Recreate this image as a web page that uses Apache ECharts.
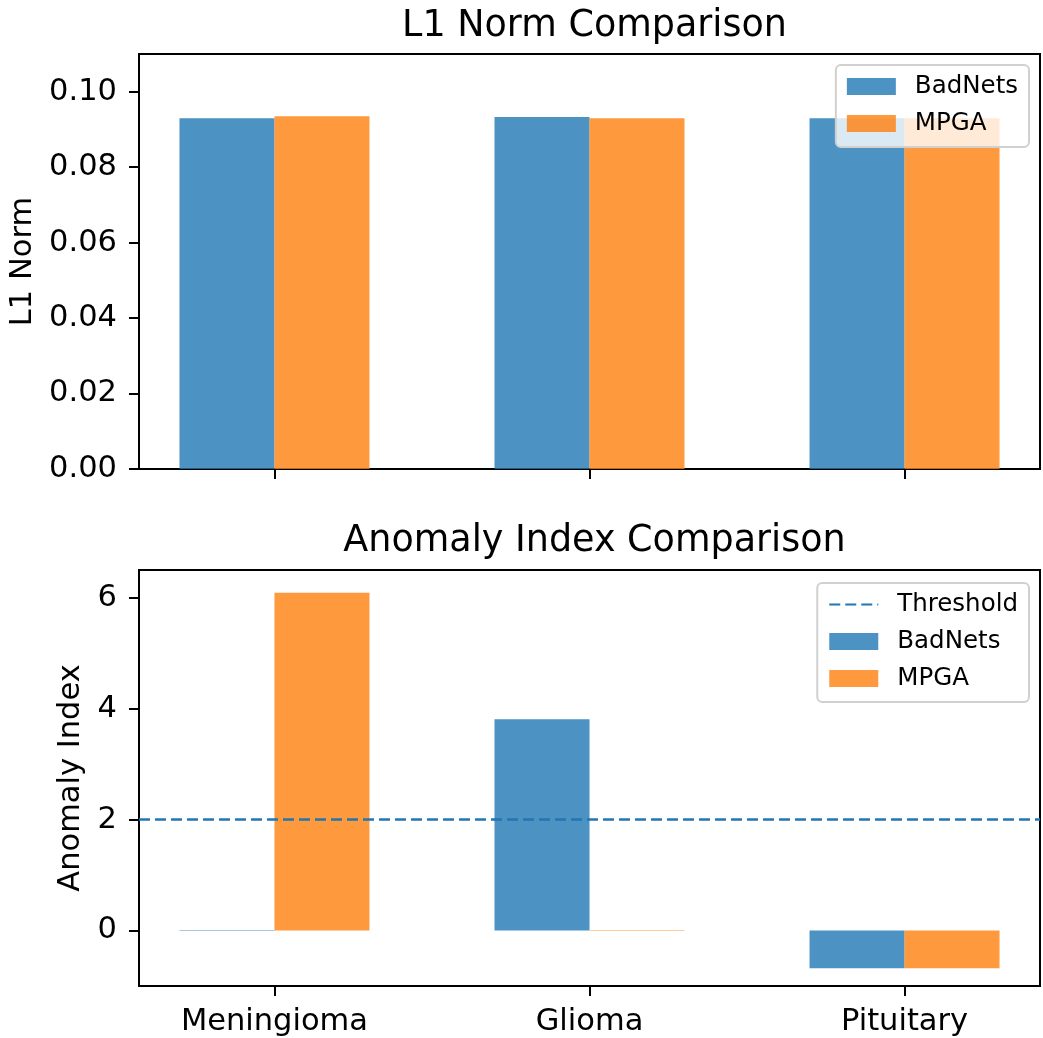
<!DOCTYPE html>
<html>
<head>
<meta charset="utf-8">
<script src="https://cdn.jsdelivr.net/npm/echarts@6/dist/echarts.min.js"></script>
<style>
  html, body { margin: 0; padding: 0; background: #fff; }
</style>
</head>
<body>
<div id="chart" style="width:1043px;height:1038px;"></div>
<script>
// data
var categories = ['Meningioma', 'Glioma', 'Pituitary'];
var l1BadNets = [0.0930, 0.0933, 0.0930];
var l1MPGA = [0.0935, 0.0930, 0.0930];
var anomalyBadNets = [0.01, 3.81, -0.68];
var anomalyMPGA = [6.09, 0.01, -0.68];
var threshold = 2;
var l1Ticks = [0, 0.02, 0.04, 0.06, 0.08, 0.10];
var anomalyTicks = [0, 2, 4, 6];

var FONT = 'DejaVu Sans';
var blue = 'rgba(31,119,180,0.8)';
var orange = 'rgba(255,127,14,0.8)';
var xMin = -0.43, xMax = 2.43;
var TICK_FS = 30.5;

function pts(vals) {
  return vals.map(function (v, i) { return [i, v]; });
}

var myChart = echarts.init(document.getElementById('chart'));

function xAxisCfg(idx, showLabels) {
  return {
    type: 'value', gridIndex: idx, min: xMin, max: xMax,
    axisLine: { show: true, onZero: false, lineStyle: { color: '#000', width: 2 } },
    axisTick: { show: true, customValues: [0, 1, 2], length: 10, lineStyle: { color: '#000', width: 2 } },
    axisLabel: {
      show: showLabels, customValues: [0, 1, 2], margin: 21,
      color: '#000', fontFamily: FONT, fontSize: TICK_FS,
      formatter: function (v) { return categories[Math.round(v)]; }
    },
    splitLine: { show: false }
  };
}

function yAxisCfg(idx, min, max, ticks, name, gap, fmt) {
  return {
    type: 'value', gridIndex: idx, min: min, max: max,
    name: name, nameLocation: 'middle', nameRotate: 90, nameGap: gap,
    nameTextStyle: { color: '#000', fontFamily: FONT, fontSize: TICK_FS },
    axisLine: { show: true, onZero: false, lineStyle: { color: '#000', width: 2 } },
    axisTick: { show: true, customValues: ticks, length: 10, lineStyle: { color: '#000', width: 2 } },
    axisLabel: { customValues: ticks, margin: 22, color: '#000', fontFamily: FONT, fontSize: TICK_FS,
      formatter: fmt },
    splitLine: { show: false }
  };
}

var legendBase = {
  orient: 'vertical', right: 14,
  itemWidth: 49, itemHeight: 17, itemGap: 12,
  padding: [9, 11, 11, 11],
  backgroundColor: 'rgba(255,255,255,0.8)',
  borderColor: '#d0d0d0', borderWidth: 2, borderRadius: 5,
  textStyle: { color: '#000', fontFamily: FONT, fontSize: 24.5, padding: [0, 0, 0, 14] }
};

var option = {
  animation: false,
  textStyle: { fontFamily: FONT },
  title: [
    { text: 'L1 Norm Comparison', left: 589.5, top: 3, textAlign: 'center',
      textStyle: { color: '#000', fontFamily: FONT, fontSize: 36.5, fontWeight: 'normal' } },
    { text: 'Anomaly Index Comparison', left: 589.5, top: 518, textAlign: 'center',
      textStyle: { color: '#000', fontFamily: FONT, fontSize: 36.5, fontWeight: 'normal' } }
  ],
  legend: [
    Object.assign({}, legendBase, { top: 65, data: [
      { name: 'BadNets', icon: 'rect' }, { name: 'MPGA', icon: 'rect' }
    ] }),
    Object.assign({}, legendBase, { top: 583, data: [
      { name: 'Threshold', itemStyle: { color: 'rgba(0,0,0,0)', borderColor: 'rgba(0,0,0,0)', borderWidth: 0 } },
      { name: 'BadNets', icon: 'rect' }, { name: 'MPGA', icon: 'rect' }
    ] })
  ],
  grid: [
    { left: 139, right: 3, top: 54, height: 415, outerBoundsMode: 'none',
      show: true, borderColor: '#000', borderWidth: 2, backgroundColor: 'transparent' },
    { left: 139, right: 3, top: 570, height: 416, outerBoundsMode: 'none',
      show: true, borderColor: '#000', borderWidth: 2, backgroundColor: 'transparent' }
  ],
  xAxis: [xAxisCfg(0, false), xAxisCfg(1, true)],
  yAxis: [
    yAxisCfg(0, 0, 0.11, l1Ticks, 'L1 Norm', 100, function (v) { return v.toFixed(2); }),
    yAxisCfg(1, -1, 6.5, anomalyTicks, 'Anomaly Index', 49, null)
  ],
  series: [
    { name: 'BadNets', type: 'bar', xAxisIndex: 0, yAxisIndex: 0, data: pts(l1BadNets),
      barWidth: 95, barGap: '0%', itemStyle: { color: blue } },
    { name: 'MPGA', type: 'bar', xAxisIndex: 0, yAxisIndex: 0, data: pts(l1MPGA),
      barWidth: 95, barGap: '0%', itemStyle: { color: orange } },
    { name: 'BadNets', type: 'bar', xAxisIndex: 1, yAxisIndex: 1, data: pts(anomalyBadNets),
      barWidth: 95, barGap: '0%', itemStyle: { color: blue } },
    { name: 'MPGA', type: 'bar', xAxisIndex: 1, yAxisIndex: 1, data: pts(anomalyMPGA),
      barWidth: 95, barGap: '0%', itemStyle: { color: orange } },
    { name: 'Threshold', type: 'line', xAxisIndex: 1, yAxisIndex: 1,
      data: [[xMin, threshold], [xMax, threshold]], symbol: 'none', z: 3,
      itemStyle: { color: '#1f77b4' },
      lineStyle: { color: '#1f77b4', width: 2.5, type: [11, 5] } }
  ]
};

myChart.setOption(option);
</script>
</body>
</html>
